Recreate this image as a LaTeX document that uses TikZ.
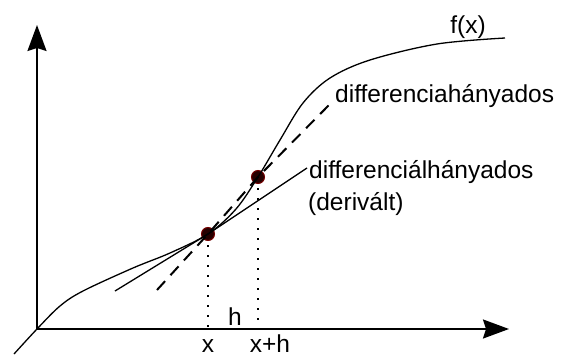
\documentclass[tikz,border=0pt]{standalone}
\usepackage{fontspec}
\setmainfont{Liberation Sans}
\usetikzlibrary{arrows.meta, positioning}

\begin{document}
\begin{tikzpicture}[
    % ── Global: one unit = one pixel of the drawing, y downwards ──
    x=1pt, y=-1pt,
    % ── Line styles ──
    axis/.style={line width=2pt, -{Stealth[length=26pt, width=19pt, inset=3pt]}},
    graph/.style={line width=1.3pt},
    tangent/.style={line width=1.3pt},
    secant/.style={line width=2pt, dash pattern=on 12pt off 8pt},
    guide/.style={line width=2pt, dash pattern=on 2pt off 8pt},
    % ── Node styles ──
    point/.style={circle, fill=black!85!red, draw=red!45!black, line width=1pt,
        minimum size=13pt, inner sep=0pt},
    lbl/.style={font=\fontsize{24.5}{29}\selectfont, inner sep=0pt},
]

\useasboundingbox (0,0) rectangle (571,362);

% ════════════════════════════════════════
%  AXES
% ════════════════════════════════════════
\coordinate (O) at (37,329);
\coordinate (Ytip) at (37,25);
\coordinate (Xtip) at (509,329);

\draw [axis] (O) -- (Ytip);
\draw [axis] (O) -- (Xtip);

% ════════════════════════════════════════
%  POINTS ON THE GRAPH
% ════════════════════════════════════════
\node (P1) [point] at (208,234) {};
\node (P2) [point] at (258,177) {};

\coordinate (Xfoot)  at (208,327);
\coordinate (XHfoot) at (258,327);

% ════════════════════════════════════════
%  CURVE, TANGENT, SECANT
% ════════════════════════════════════════
\draw [graph] plot [smooth, tension=0.55] coordinates {
    (14,354) (37,329) (60,306) (83,291) (133,268) (170,253) (208,234)
    (236,209) (258,177) (280,140) (303,103) (330,78) (370,60) (437,44) (505,38)};

\coordinate (Tstart) at (115,291);
\coordinate (Tend)   at (307,168);
\draw [tangent] (Tstart) -- (P1.center) -- (Tend);

\coordinate (Sstart) at (157,290);
\coordinate (Send)   at (331,103);
\draw [secant] (Sstart) -- (P1.center) -- (P2.center) -- (Send);

% dotted guides down to the axis
\draw [guide] (P1.south) ++(0,4) -- (Xfoot);
\draw [guide] (P2.south) ++(0,4) -- (XHfoot);

% ════════════════════════════════════════
%  LABELS
% ════════════════════════════════════════
\node (Lf)    [lbl, anchor=base] at (468,33) {f(x)};
\node (Lsec)  [lbl, anchor=base west] at (335,102) {differenciahányados};
\node (Ltan)  [lbl, anchor=base west] at (309,178) {differenciálhányados};
\node (Lder)  [lbl, anchor=base west] at (308,210) {(derivált)};
\node (Lh)    [lbl, anchor=base] at (235,325) {h};
\node (Lx)    [lbl, anchor=base] at (208,352) {x};
\node (Lxh)   [lbl, anchor=base] at (270,352) {x+h};

\end{tikzpicture}
\end{document}
